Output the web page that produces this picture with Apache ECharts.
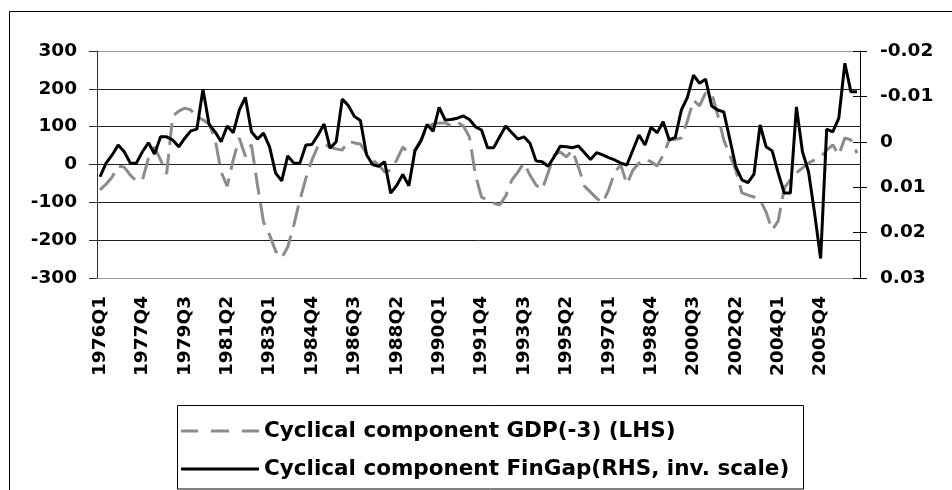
<!DOCTYPE html>
<html>
<head>
<meta charset="utf-8">
<script src="https://cdn.jsdelivr.net/npm/echarts/dist/echarts.min.js"></script>
<style>
html, body { margin: 0; padding: 0; background: #fff; }
#main { width: 952px; height: 490px; }
</style>
</head>
<body>
<div id="main"></div>
<script>
// quarterly categories, 1976Q1 .. 2007Q2
var quarters = [];
for (var yr = 1976; yr <= 2007; yr++) {
  for (var q = 1; q <= 4; q++) quarters.push(yr + 'Q' + q);
}
quarters = quarters.slice(0, 126);

// cyclical component of GDP, lagged 3 quarters (left axis)
var gdpGap = [
  -67, -52, -33, -4, -7, -28, -44, -41, 17, 46,
  12, -25, 128, 141, 149, 144, 126, 118, 107, 67,
  -20, -57, 12, 70, 22, 52, -54, -152, -186, -229,
  -247, -218, -160, -94, -36, 12, 49, 54, 46, 41,
  38, 62, 57, 54, 30, 12, -1, -20, -15, 12,
  46, 30, 38, 65, 99, 107, 110, 110, 102, 112,
  102, 73, -28, -86, -94, -102, -107, -83, -41, -20,
  4, -28, -54, -67, -22, 25, 33, 20, 38, -7,
  -57, -73, -89, -102, -67, -20, -1, -52, -15, 4,
  15, 7, -4, 25, 65, 67, 70, 115, 170, 155,
  189, 189, 131, 65, 25, -15, -75, -81, -86, -94,
  -126, -173, -149, -62, -41, -22, -9, 4, 12, 20,
  38, 52, 25, 70, 65, 30
];

// cyclical component of the financial gap (right axis, inverted)
var finGap = [
  0.0077, 0.0047, 0.0029, 0.0007, 0.0022, 0.0047, 0.0047, 0.0022, 0.0002, 0.0027,
  -0.0011, -0.0011, -0.0004, 0.0011, -0.0008, -0.0024, -0.0028, -0.0116, -0.0039, -0.0022,
  0.0000, -0.0035, -0.0020, -0.0070, -0.0098, -0.0022, -0.0006, -0.0019, 0.0011, 0.0069,
  0.0086, 0.0031, 0.0047, 0.0047, 0.0007, 0.0006, -0.0015, -0.0039, 0.0014, 0.0000,
  -0.0094, -0.0080, -0.0056, -0.0047, 0.0028, 0.0050, 0.0054, 0.0044, 0.0113, 0.0096,
  0.0072, 0.0097, 0.0020, -0.0002, -0.0038, -0.0023, -0.0076, -0.0048, -0.0049, -0.0052,
  -0.0057, -0.0049, -0.0033, -0.0026, 0.0013, 0.0013, -0.0011, -0.0035, -0.0020, -0.0006,
  -0.0011, 0.0003, 0.0042, 0.0044, 0.0054, 0.0033, 0.0010, 0.0011, 0.0013, 0.0009,
  0.0024, 0.0039, 0.0024, 0.0029, 0.0035, 0.0040, 0.0047, 0.0051, 0.0018, -0.0015,
  0.0007, -0.0032, -0.0020, -0.0044, -0.0004, -0.0010, -0.0070, -0.0098, -0.0147, -0.0129,
  -0.0138, -0.0079, -0.0070, -0.0066, -0.0006, 0.0055, 0.0084, 0.0090, 0.0071, -0.0037,
  0.0011, 0.0020, 0.0069, 0.0113, 0.0113, -0.0077, 0.0022, 0.0066, 0.0157, 0.0257,
  -0.0028, -0.0022, -0.0052, -0.0173, -0.0110, -0.0110
];

var seriesNames = ['Cyclical component GDP(-3) (LHS)', 'Cyclical component FinGap(RHS, inv. scale)'];

var FONT = 'DejaVu Sans, Verdana, sans-serif';
var labelStyle = { color: '#000', fontFamily: FONT, fontWeight: 'bold', fontSize: 18.5 };
var legendText = { color: '#000', fontFamily: FONT, fontWeight: 'bold', fontSize: 21.5, lineHeight: 24 };

// legend samples drawn as paths so there is no symbol in the middle
var dashIcon = 'path://M0,0h17v3h-17z M30,0h18v3h-18z M61,0h17v3h-17z';
var solidIcon = 'path://M0,0h78v3h-78z';

var chart = echarts.init(document.getElementById('main'), null, { renderer: 'canvas' });

chart.setOption({
  animation: false,
  backgroundColor: '#fff',
  graphic: [
    { // outer chart frame
      type: 'rect',
      shape: { x: 9.5, y: 11.5, width: 1000, height: 1000 },
      style: { fill: 'none', stroke: '#000', lineWidth: 1 },
      silent: true
    },
    { // legend frame
      type: 'rect',
      shape: { x: 177.5, y: 405.5, width: 626, height: 83.5 },
      style: { fill: 'none', stroke: '#000', lineWidth: 1 },
      silent: true
    }
  ],
  grid: { left: 97, right: 92, top: 51, bottom: 212, containLabel: false },
  legend: [
    {
      left: 181, top: 419, padding: 0,
      data: [{ name: seriesNames[0], icon: dashIcon }],
      itemWidth: 78, itemHeight: 3,
      textStyle: legendText
    },
    {
      left: 181, top: 457, padding: 0,
      data: [{ name: seriesNames[1], icon: solidIcon }],
      itemWidth: 78, itemHeight: 3,
      textStyle: legendText
    }
  ],
  xAxis: {
    type: 'category',
    data: quarters,
    boundaryGap: true,
    axisLine: { show: true, onZero: false, lineStyle: { color: '#999', width: 1 } },
    axisTick: { show: false },
    axisLabel: Object.assign({ interval: 6, rotate: 90, margin: 18 }, labelStyle),
    splitLine: { show: false }
  },
  yAxis: [
    {
      type: 'value',
      min: -300, max: 300, interval: 100,
      position: 'left',
      axisLine: { show: true, lineStyle: { color: '#333', width: 1 } },
      axisTick: { show: true, length: 8, lineStyle: { color: '#333' } },
      axisLabel: Object.assign({ margin: 20 }, labelStyle),
      splitLine: {
        show: true,
        lineStyle: { color: ['#999', '#222', '#222', '#222', '#222', '#222', '#999'], width: 1 }
      }
    },
    {
      type: 'value',
      min: -0.02, max: 0.03, interval: 0.01,
      inverse: true,
      position: 'right',
      axisLine: { show: true, lineStyle: { color: '#000', width: 1 } },
      axisTick: { show: true, length: 7, lineStyle: { color: '#000' } },
      axisLabel: Object.assign({
        margin: 20,
        formatter: function (v) { return String(parseFloat(v.toFixed(2))); }
      }, labelStyle),
      splitLine: { show: false }
    },
    { // inner half of the crossing ticks on the right axis
      type: 'value',
      min: -0.02, max: 0.03, interval: 0.01,
      inverse: true,
      position: 'right',
      axisLine: { show: false },
      axisTick: { show: true, inside: true, length: 7, lineStyle: { color: '#000' } },
      axisLabel: { show: false },
      splitLine: { show: false }
    }
  ],
  series: [
    {
      name: seriesNames[0],
      type: 'line',
      yAxisIndex: 0,
      data: gdpGap,
      symbol: 'none',
      lineStyle: { color: '#8c8c8c', width: 3, type: [22, 9] },
      itemStyle: { color: '#8c8c8c' },
      z: 2
    },
    {
      name: seriesNames[1],
      type: 'line',
      yAxisIndex: 1,
      data: finGap,
      symbol: 'none',
      lineStyle: { color: '#000', width: 3 },
      itemStyle: { color: '#000' },
      z: 3
    }
  ]
});
</script>
</body>
</html>
